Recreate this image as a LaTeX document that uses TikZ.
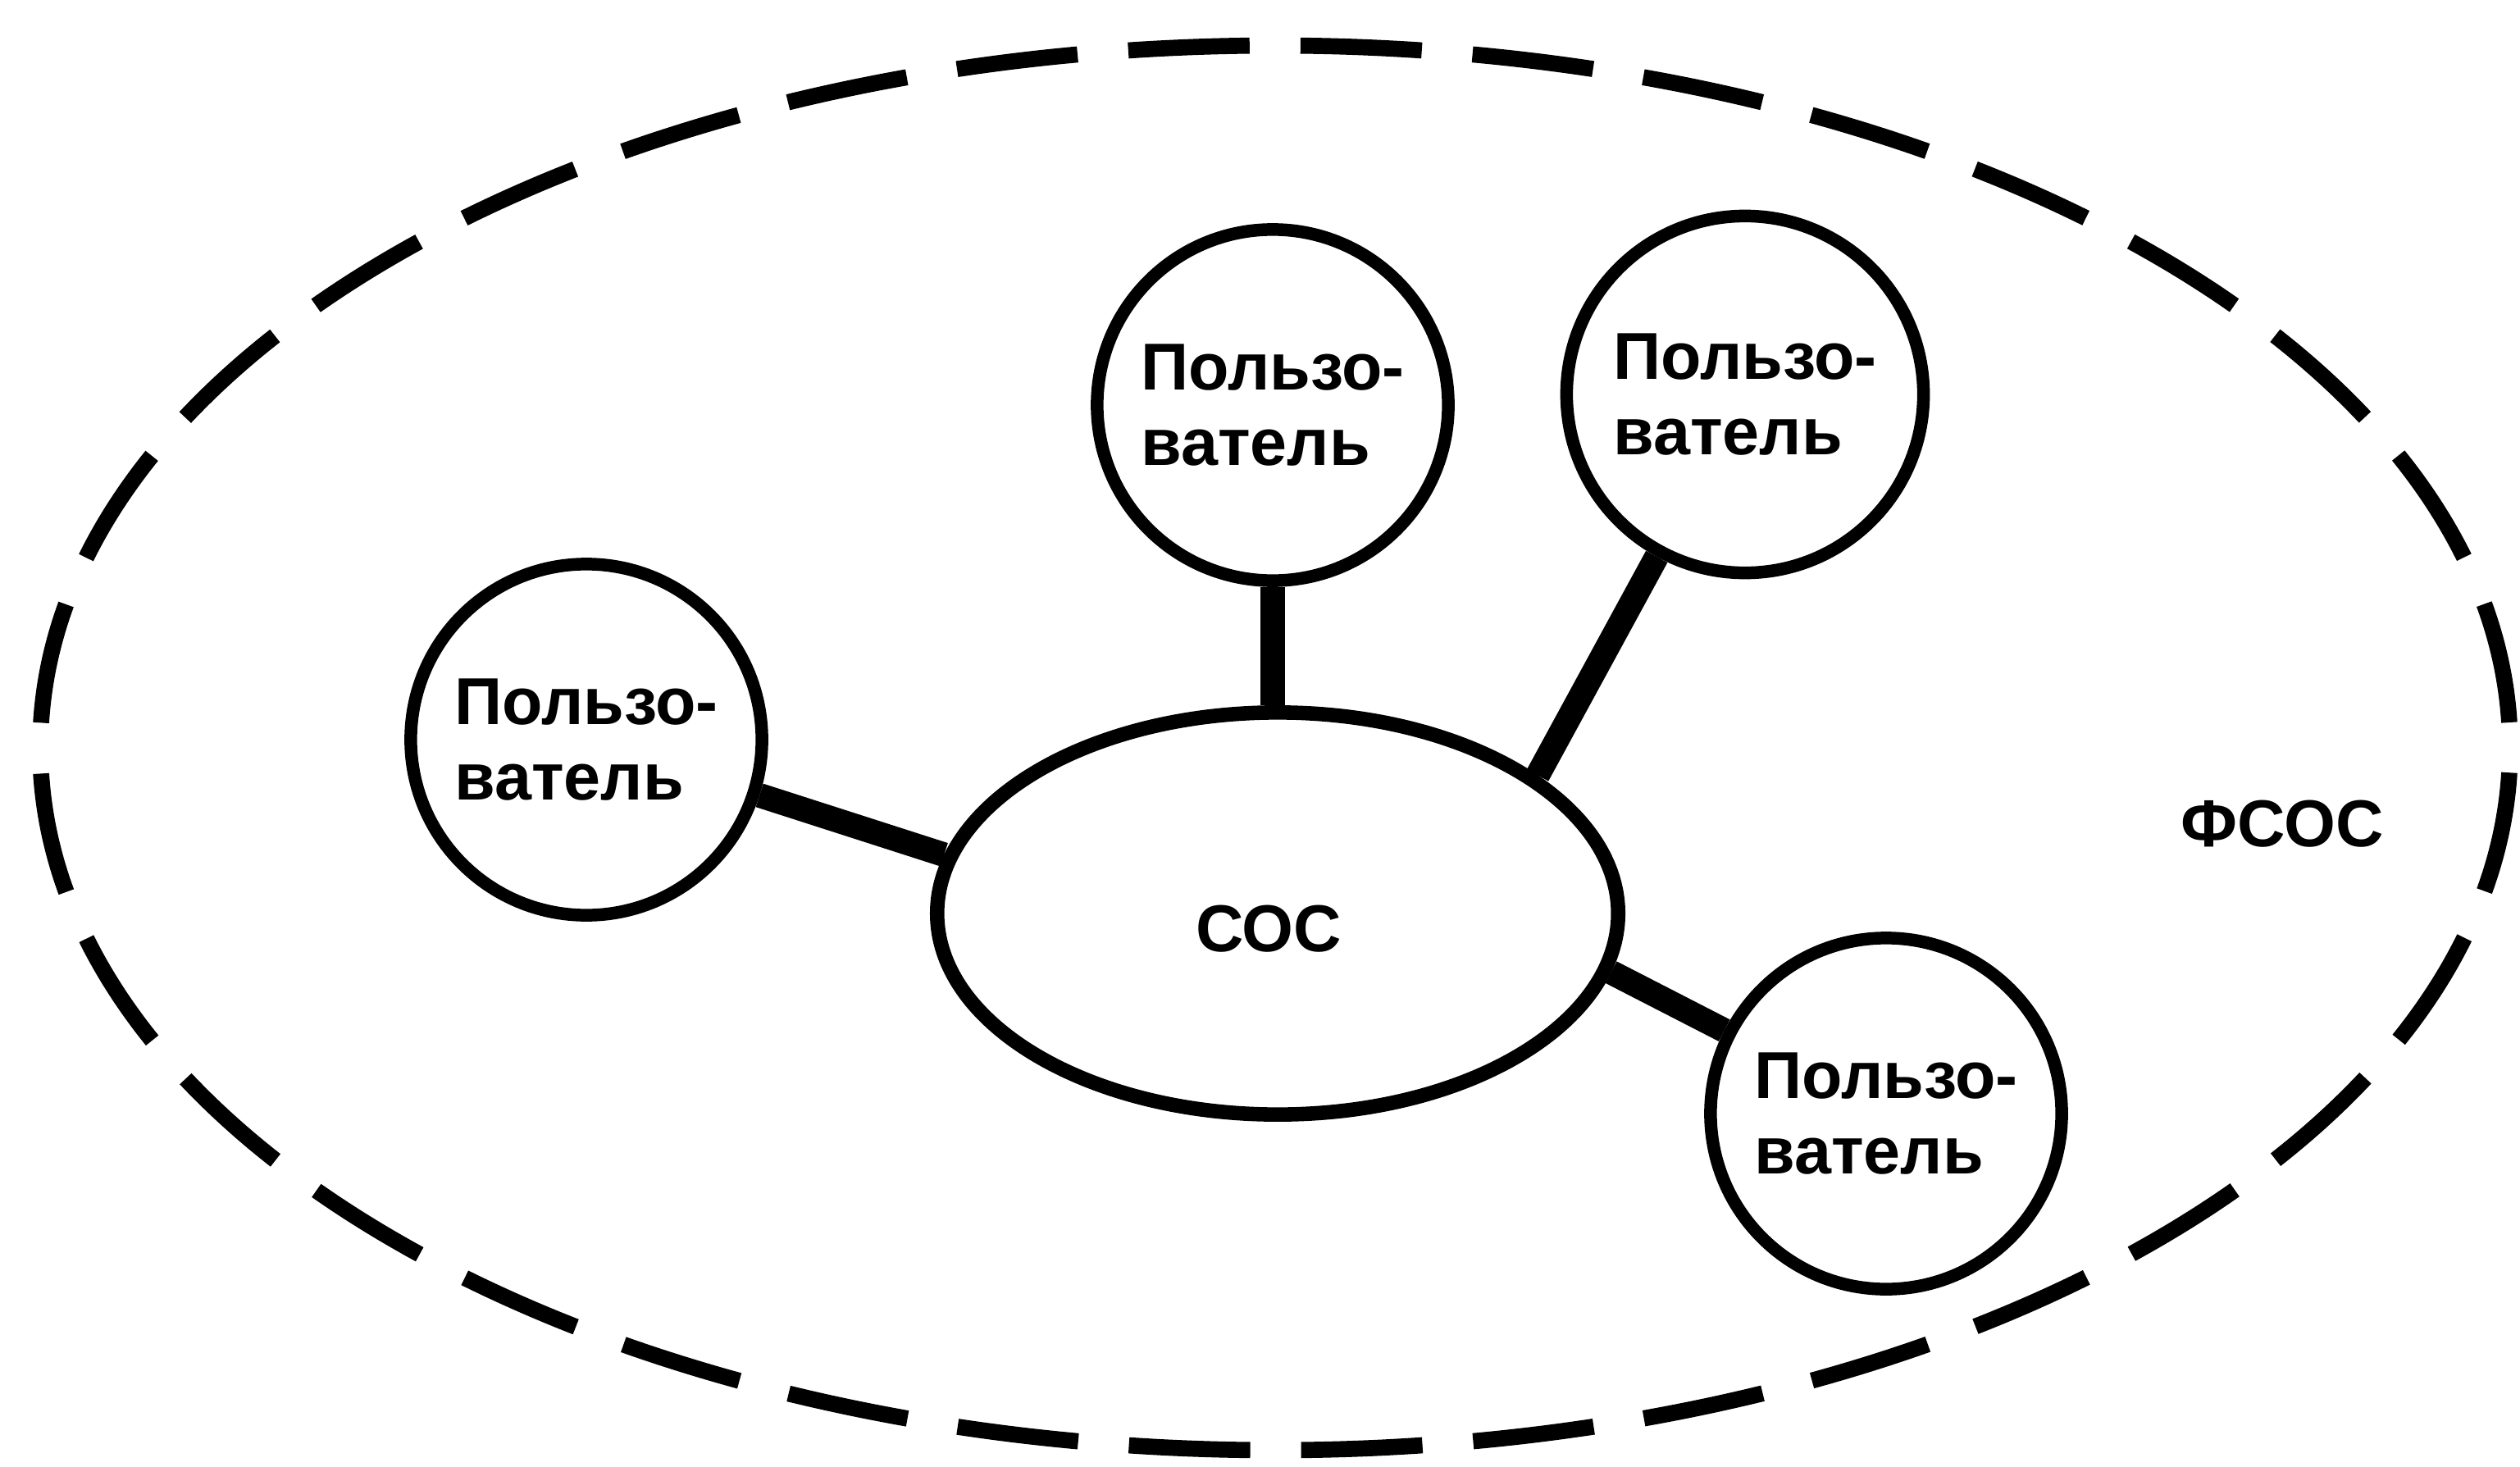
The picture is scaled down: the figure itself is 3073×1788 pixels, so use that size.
\documentclass[tikz,border=0pt]{standalone}
\usepackage{fontspec}
\setmainfont{Liberation Sans}
\usetikzlibrary{shapes.geometric}
\begin{document}
\begin{tikzpicture}[x=0.01cm,y=-0.01cm,
  every node/.style={font=\fontsize{23pt}{26pt}\selectfont\bfseries},
  user/.style={circle,draw,line width=4.4pt,inner sep=0pt,minimum size=4.28cm,align=left},
  core/.style={ellipse,draw,line width=5pt,inner sep=0pt,minimum width=8.3cm,minimum height=4.9cm},
  link/.style={line width=8.5pt},
  boundary/.style={line width=5.6pt,dash pattern=on 1.48cm off 0.62cm,dash phase=1.79cm}]
\useasboundingbox (0,0) rectangle (3073,1788);
\draw[boundary] (1555,912) ellipse [x radius=15.05cm,y radius=8.56cm];
\node[user] (u1) at (715,902) {Пользо-\\ватель};
\node[user] (u2) at (1552,494) {Пользо-\\ватель};
\node[user,minimum size=4.35cm] (u3) at (2128,481) {Пользо-\\ватель};
\node[user] (u4) at (2300,1358) {Пользо-\\ватель};
\node[core] (cos) at (1558,1114) {};
\node[anchor=base] (cost) at (1547,1160) {СОС};
\node[anchor=base] (fsos) at (2783,1032) {ФСОС};
\draw[link] (u1) -- (cos.170);
\draw[link] (u2) -- (u2 |- cos.north);
\draw[link] (u3) -- (cos.28);
\draw[link] (cos.-10) -- (u4);
\end{tikzpicture}
\end{document}
